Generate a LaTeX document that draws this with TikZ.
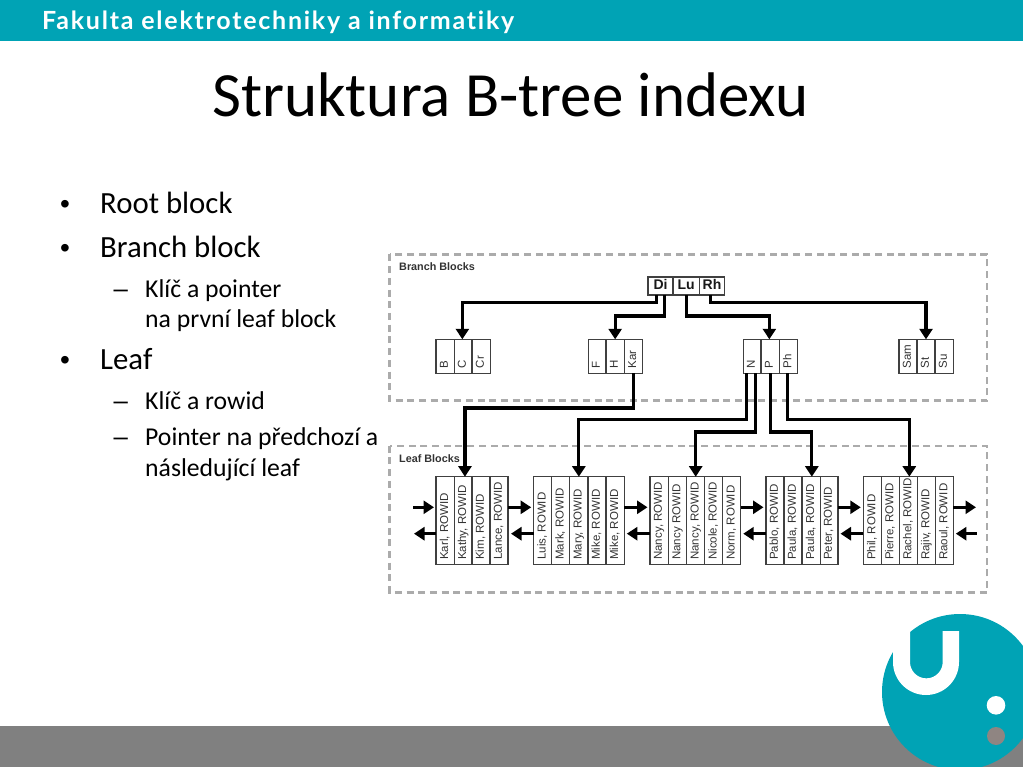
\documentclass[tikz,border=0pt]{standalone}
\usepackage{fontspec}
\setmainfont{Carlito}
\newfontfamily\helv{Liberation Sans}
\newfontfamily\hdrfont[LetterSpace=7,Ligatures=NoCommon]{Lato}
\usetikzlibrary{arrows.meta,calc}
\definecolor{teal1}{HTML}{00A3B5}
\definecolor{bar}{HTML}{808080}
\definecolor{dotgray}{HTML}{8F8582}
\definecolor{dash}{HTML}{ABABAB}
\definecolor{cellline}{HTML}{404040}
\definecolor{celltext}{HTML}{333333}
\tikzset{
  cellbox/.style={draw=cellline,line width=1.4pt,rectangle,inner sep=0pt,outer sep=0pt,text=celltext,font=\helv\fontsize{11.5}{12}\selectfont},
  rootbox/.style={cellbox,font=\helv\bfseries\fontsize{14}{14}\selectfont,text=black!90},
  region/.style={draw=dash,line width=2.3pt,dash pattern=on 7pt off 4.7pt},
  regionlabel/.style={anchor=west,inner sep=0pt,text=celltext,font=\helv\bfseries\fontsize{10.8}{12}\selectfont},
  arr/.style={draw=black,line width=3.1pt,-{Triangle[width=13pt,length=10.5pt]}},
  lvlone/.style={anchor=base west,inner sep=0pt,font=\fontsize{30.8}{32}\selectfont},
  lvltwo/.style={anchor=base west,inner sep=0pt,font=\fontsize{25.7}{28}\selectfont},
  markone/.style={anchor=base west,inner sep=0pt,font=\helv\fontsize{28}{30}\selectfont},
  marktwo/.style={anchor=base west,inner sep=0pt,font=\helv\fontsize{25.7}{28}\selectfont},
}
% name, x0, x1, y0, y1, text (read bottom to top, starting 5 above the cell's foot)
\newcommand{\vcell}[6]{%
  \node[cellbox,minimum width={#3-#2},minimum height={#5-#4}] (#1) at ({(#2+#3)/2},{(#4+#5)/2})
    {\rotatebox{90}{\makebox[\dimexpr#5pt-#4pt-10pt\relax][l]{\vphantom{Ag}#6}}};}
\newcommand{\hcell}[4]{%
  \node[rootbox,minimum width={#3-#2},minimum height=18] (#1) at ({(#2+#3)/2},286) {\vphantom{Dg}#4};}
\newcommand{\bcell}[4]{\vcell{#1}{#2}{#3}{339.3}{373.3}{#4}}
\newcommand{\lcell}[4]{\vcell{#1}{#2}{#3}{476.7}{564.7}{#4, ROWID}}
\begin{document}
\begin{tikzpicture}[x=1pt,y=-1pt]
\useasboundingbox (0,0) rectangle (1023,767);
\fill[white] (0,0) rectangle (1023,767);
% slide furniture
\fill[teal1] (0,0) rectangle (1023,40.6);
\fill[bar] (0,726) rectangle (1023,767);
\begin{scope}
\clip (0,0) rectangle (1023,767);
\fill[teal1] (960,692) circle[radius=78];
\fill[white] (893,631) -- (893,662) arc[start angle=180,end angle=0,radius=33] -- (959,631) -- (942.7,631) -- (942.7,662)
  arc[start angle=0,end angle=180,radius=16.35] -- (910,631) -- cycle;
\fill[white] (996,705.3) circle[radius=9.3];
\fill[dotgray] (996,736) circle[radius=9];
\end{scope}
\node[anchor=base west,inner sep=0pt,text=white,font=\hdrfont\bfseries\fontsize{25}{26}\selectfont] (hdr) at (42,30) {Fakulta elektrotechniky a informatiky};
\node[anchor=base,inner sep=0pt,font=\fontsize{63}{66}\selectfont] (title) at (510.5,117) {Struktura B-tree indexu};
% bullets
\node[markone] (b1) at (60,214) {•};
\node[lvlone] (t1) at (100,214) {Root block};
\node[markone] (b2) at (60,258) {•};
\node[lvlone] (t2) at (100,258) {Branch block};
\node[marktwo] (d1) at (113.5,297.5) {–};
\node[lvltwo] (t3) at (145,297.5) {Klíč a pointer};
\node[lvltwo] (t4) at (145,327.5) {na první leaf block};
\node[markone] (b3) at (60,370) {•};
\node[lvlone] (t5) at (100,370) {Leaf};
\node[marktwo] (d2) at (113.5,409.5) {–};
\node[lvltwo] (t6) at (145,409.5) {Klíč a rowid};
\node[marktwo] (d3) at (113.5,445.5) {–};
\node[lvltwo] (t7) at (145,445.5) {Pointer na předchozí a};
\node[lvltwo] (t8) at (145,476.5) {následující leaf};
% regions
\draw[region] (389.5,254.5) rectangle (987,400.5);
\draw[region] (389.5,445.7) rectangle (987,592.5);
\node[regionlabel] (brl) at (399,267) {Branch Blocks};
\node[regionlabel] (lfl) at (399,458.7) {Leaf Blocks};
% root
\hcell{di}{648}{673}{Di}
\hcell{lu}{673}{699.3}{Lu}
\hcell{rh}{699.3}{724.7}{Rh}
% branch blocks
\bcell{bB}{436}{454.3}{B}
\bcell{bC}{454.3}{472}{C}
\bcell{bCr}{472}{490.3}{Cr}
\bcell{bF}{588.3}{606}{F}
\bcell{bH}{606}{624.3}{H}
\bcell{bKar}{624.3}{642.3}{Kar}
\bcell{bN}{743.3}{761}{N}
\bcell{bP}{761}{779.3}{P}
\bcell{bPh}{779.3}{797.7}{Ph}
\bcell{bSam}{899}{917}{Sam}
\bcell{bSt}{917}{935}{St}
\bcell{bSu}{935}{953.3}{Su}
% leaf blocks
\lcell{la1}{436}{454.3}{Karl}
\lcell{la2}{454.3}{472}{Kathy}
\lcell{la3}{472}{490}{Kim}
\lcell{la4}{490}{508}{Lance}
\lcell{lb1}{533.7}{551.7}{Luis}
\lcell{lb2}{551.7}{569.7}{Mark}
\lcell{lb3}{569.7}{588}{Mary}
\lcell{lb4}{588}{606}{Mike}
\lcell{lb5}{606}{624.3}{Mike}
\lcell{lc1}{650}{668.3}{Nancy}
\vcell{lc2}{668.3}{686.7}{476.7}{564.7}{Nancy ROWID}
\lcell{lc3}{686.7}{704.7}{Nancy}
\lcell{lc4}{704.7}{722.7}{Nicole}
\lcell{lc5}{722.7}{740.7}{Norm}
\lcell{ld1}{766}{784}{Pablo}
\lcell{ld2}{784}{802}{Paula}
\lcell{ld3}{802}{820.3}{Paula}
\lcell{ld4}{820.3}{838}{Peter}
\lcell{le1}{863.3}{881.3}{Phil}
\lcell{le2}{881.3}{899.5}{Pierre}
\lcell{le3}{899.5}{917.5}{Rachel}
\lcell{le4}{917.5}{935.5}{Rajiv}
\lcell{le5}{935.5}{953.3}{Raoul}
% root to branch
\draw[arr] ([xshift=-3.8pt]di.south) -- ++(0,7.7) -| ([xshift=-0.8pt]bC.north);
\draw[arr] ([xshift=3.8pt]di.south) -- ++(0,21) -| (bH.north);
\draw[arr] ([xshift=0.7pt]lu.south) -- ++(0,21) -| ([xshift=-0.8pt]bP.north);
\draw[arr] ([xshift=-1.3pt]rh.south) -- ++(0,7.7) -| (bSt.north);
% branch to leaf
\draw[arr] (bKar.south) -- ++(0,34.7) -| ([xshift=1.8pt]la2.north);
\draw[arr] ([xshift=-5.4pt]bN.south) -- ++(0,46) -| (lb3.north);
\draw[arr] ([xshift=3.2pt]bN.south) -- ++(0,58.7) -| (lc3.north);
\draw[arr] (bP.south) -- ++(0,58.7) -| ([xshift=0.7pt]ld3.north);
\draw[arr] ([xshift=-1.2pt]bPh.south) -- ++(0,46) -| ([xshift=0.8pt]le3.north);
% sibling links
\coordinate (upy) at (0,507.3);
\coordinate (loy) at (0,533.7);
\coordinate (inL) at (413.3,507.3);
\coordinate (outL) at (414,533.7);
\coordinate (outR) at (976,507.3);
\coordinate (inR) at (976.7,533.7);
\draw[arr,shorten >=2pt] (inL) -- (la1.west |- upy);
\draw[arr] (la1.west |- loy) -- (outL);
\draw[arr,shorten >=2.5pt] (la4.east |- upy) -- (lb1.west |- upy);
\draw[arr,shorten >=3pt] (lb1.west |- loy) -- (la4.east |- loy);
\draw[arr,shorten >=2.5pt] (lb5.east |- upy) -- (lc1.west |- upy);
\draw[arr,shorten >=2.5pt] (lc1.west |- loy) -- (lb5.east |- loy);
\draw[arr,shorten >=2.5pt] (lc5.east |- upy) -- (ld1.west |- upy);
\draw[arr,shorten >=2.5pt] (ld1.west |- loy) -- (lc5.east |- loy);
\draw[arr,shorten >=2.5pt] (ld4.east |- upy) -- (le1.west |- upy);
\draw[arr,shorten >=2.5pt] (le1.west |- loy) -- (ld4.east |- loy);
\draw[arr] (le5.east |- upy) -- (outR);
\draw[arr,shorten >=2.5pt] (inR) -- (le5.east |- loy);
\end{tikzpicture}
\end{document}
